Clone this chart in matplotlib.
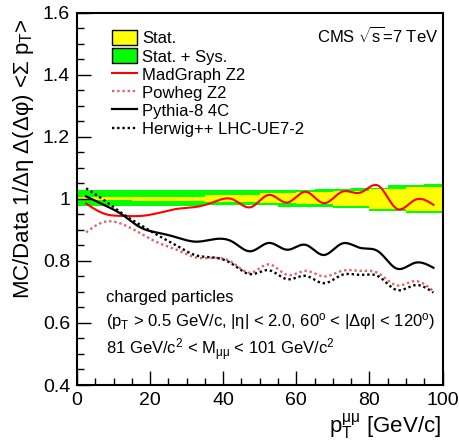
import numpy as np
import matplotlib
matplotlib.use("Agg")
import matplotlib.pyplot as plt
from matplotlib.patches import Patch
from matplotlib.lines import Line2D
from matplotlib.ticker import MultipleLocator

plt.rcParams["font.family"] = ["Liberation Sans", "DejaVu Sans"]
plt.rcParams["mathtext.fontset"] = "custom"
plt.rcParams["mathtext.rm"] = "Liberation Sans"
plt.rcParams["mathtext.it"] = "Liberation Sans"
plt.rcParams["mathtext.default"] = "regular"

# ==== data ====
# data bands, 5 GeV bins 0..100
bin_edges = np.arange(0, 105, 5)
tot_hi = [1.027] * 9 + [1.030] * 4 + [1.032] * 2 + [1.035] * 2 + [1.046] * 2 + [1.049]
tot_lo = [0.978] * 7 + [0.981] * 4 + [0.973] * 3 + [0.969] * 2 + [0.962] * 2 + [0.956] * 2
stat_hi = [1.005] * 3 + [1.007] * 4 + [1.012] * 3 + [1.018] * 2 + [1.022] * 2 + [1.026] * 2 + [1.032] * 2 + [1.038] * 2
stat_lo = [0.995] * 3 + [0.993] * 4 + [0.989] * 3 + [0.986] * 2 + [0.982] * 2 + [0.976] * 2 + [0.968] * 2 + [0.961] * 2

# MC / data ratios at bin centres
pt = np.arange(2.5, 100, 5)
madgraph = [0.985, 0.952, 0.945, 0.945, 0.955, 0.968, 0.974, 0.990, 0.999, 0.973,
            1.013, 0.988, 1.023, 0.986, 1.023, 1.020, 1.042, 0.968, 0.997, 0.981]
powheg = [0.892, 0.926, 0.918, 0.888, 0.857, 0.835, 0.811, 0.810, 0.795, 0.762,
          0.789, 0.755, 0.768, 0.750, 0.768, 0.768, 0.760, 0.721, 0.735, 0.703]
pythia = [1.008, 0.980, 0.948, 0.907, 0.890, 0.875, 0.862, 0.870, 0.862, 0.831,
          0.858, 0.836, 0.852, 0.819, 0.856, 0.842, 0.830, 0.775, 0.794, 0.778]
herwig = [1.034, 0.995, 0.952, 0.915, 0.880, 0.848, 0.818, 0.811, 0.790, 0.757,
          0.770, 0.741, 0.752, 0.728, 0.755, 0.755, 0.750, 0.706, 0.722, 0.698]


def smooth_curve(x, y, num=400):
    # natural cubic spline, like ROOT's "C" draw option
    x = np.asarray(x, float)
    y = np.asarray(y, float)
    n = len(x)
    h = np.diff(x)
    A = np.zeros((n, n))
    b = np.zeros(n)
    A[0, 0] = A[-1, -1] = 1
    for i in range(1, n - 1):
        A[i, i - 1] = h[i - 1]
        A[i, i] = 2 * (h[i - 1] + h[i])
        A[i, i + 1] = h[i]
        b[i] = 3 * ((y[i + 1] - y[i]) / h[i] - (y[i] - y[i - 1]) / h[i - 1])
    c = np.linalg.solve(A, b)
    xs = np.linspace(x[0], x[-1], num)
    idx = np.clip(np.searchsorted(x, xs) - 1, 0, n - 2)
    dx = xs - x[idx]
    bb = (y[1:] - y[:-1]) / h - h * (2 * c[:-1] + c[1:]) / 3
    d = (c[1:] - c[:-1]) / (3 * h)
    ys = y[idx] + bb[idx] * dx + c[idx] * dx ** 2 + d[idx] * dx ** 3
    return xs, ys


fig = plt.figure(figsize=(4.6, 4.43), dpi=100)
ax = fig.add_axes([0.1674, 0.1309, 0.7946, 0.8404])

# bands
ax.fill_between(bin_edges, tot_lo + [tot_lo[-1]], tot_hi + [tot_hi[-1]],
                step="post", color="#00ff00", lw=0)
ax.fill_between(bin_edges, stat_lo + [stat_lo[-1]], stat_hi + [stat_hi[-1]],
                step="post", color="#ffff00", lw=0)

dot = (0, (1, 1.2))
ax.plot(*smooth_curve(pt, madgraph), color="#ff0000", lw=1.5)
ax.plot(*smooth_curve(pt, powheg), color="#e06464", lw=1.7, linestyle=dot)
ax.plot(*smooth_curve(pt, pythia), color="black", lw=1.6)
ax.plot(*smooth_curve(pt, herwig), color="black", lw=1.7, linestyle=dot)

ax.set_xlim(0, 100)
ax.set_ylim(0.4, 1.6)
ax.xaxis.set_minor_locator(MultipleLocator(5))
ax.yaxis.set_minor_locator(MultipleLocator(0.05))
ax.set_xticks([0, 20, 40, 60, 80, 100])
ax.set_xticklabels(["0", "20", "40", "60", "80", "100"])
ax.set_yticks([0.4, 0.6, 0.8, 1.0, 1.2, 1.4, 1.6])
ax.set_yticklabels(["0.4", "0.6", "0.8", "1", "1.2", "1.4", "1.6"])
ax.tick_params(which="major", direction="in", length=10, width=1, labelsize=14, pad=5)
ax.tick_params(which="minor", direction="in", length=5, width=1)
for s in ax.spines.values():
    s.set_linewidth(1.5)

ax.set_ylabel("MC/Data 1/Δη Δ(Δφ) <Σ $p_{T}$>", fontsize=16, loc="top")
ax.yaxis.set_label_coords(-0.113, 0.985)
ax.set_xlabel("$p_{T}^{μμ}$ [GeV/c]", fontsize=16, loc="right")
ax.xaxis.set_label_coords(0.995, -0.072)

handles = [
    Patch(facecolor="#ffff00", edgecolor="black", lw=1),
    Patch(facecolor="#00ff00", edgecolor="black", lw=1),
    Line2D([], [], color="#ff0000", lw=1.5),
    Line2D([], [], color="#e06464", lw=1.7, linestyle=dot),
    Line2D([], [], color="black", lw=1.6),
    Line2D([], [], color="black", lw=1.7, linestyle=dot),
]
labels = ["Stat.", "Stat. + Sys.", "MadGraph Z2", "Powheg Z2", "Pythia-8 4C",
          "Herwig++ LHC-UE7-2"]
ax.legend(handles, labels, loc="upper left", bbox_to_anchor=(0.096, 0.953),
          frameon=False, fontsize=12, borderpad=0, borderaxespad=0,
          handlelength=1.5, handleheight=1.0, handletextpad=0.3, labelspacing=0.12)

ax.text(0.657, 0.937, "CMS $\\sqrt{s}$=7 TeV", transform=ax.transAxes,
        fontsize=12, va="center", ha="left")
ax.text(0.079, 0.234, "charged particles", transform=ax.transAxes,
        fontsize=12, va="center", ha="left")
ax.text(0.079, 0.170,
        "($p_{T}$ > 0.5 GeV/c, |η| < 2.0, 60$^{o}$ < |Δφ| < 120$^{o}$)",
        transform=ax.transAxes, fontsize=12, va="center", ha="left")
ax.text(0.079, 0.094, "81 GeV/c$^{2}$ < $M_{μμ}$ < 101 GeV/c$^{2}$",
        transform=ax.transAxes, fontsize=12, va="center", ha="left")

fig.savefig("out.png", dpi=100)
